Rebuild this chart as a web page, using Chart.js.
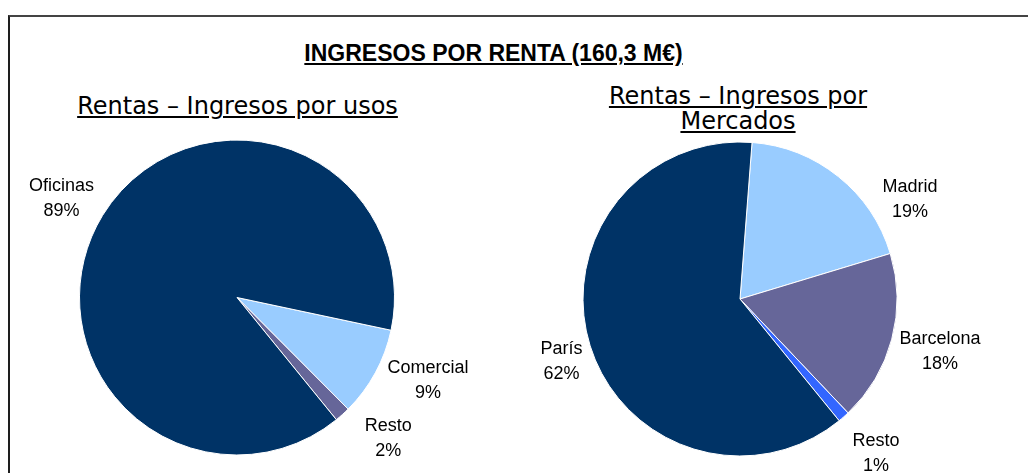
<!DOCTYPE html>
<html>
<head>
<meta charset="utf-8">
<script src="https://cdn.jsdelivr.net/npm/chart.js@4.4.0/dist/chart.umd.min.js"></script>
<style>
  body { margin: 0; width: 1028px; height: 473px; overflow: hidden; background: #fff; position: relative; }
  #frame { position: absolute; left: 8px; top: 15px; width: 1100px; height: 500px;
           border-top: 2px solid #444; border-left: 2px solid #1e1e1e; }
  #title { position: absolute; left: 0; width: 987px; top: 40px; line-height: 26px; text-align: center;
           font: bold 23px "Liberation Sans", Arial, sans-serif; text-decoration: underline; color: #000; }
  .sub { position: absolute; text-align: center; font-family: "DejaVu Sans", Verdana, sans-serif;
         font-size: 24px; text-decoration: underline; color: #000; }
  #subUsos { left: 0; width: 475px; top: 93px; line-height: 26px; }
  #subMercados { left: 438px; width: 600px; top: 84px; line-height: 25px; }
  canvas { position: absolute; top: 0; }
  #usosChart { left: 0; }
  #mercadosChart { left: 514px; }
</style>
</head>
<body>
<div id="frame"></div>
<div id="title">INGRESOS POR RENTA (160,3 M€)</div>
<div class="sub" id="subUsos">Rentas – Ingresos por usos</div>
<div class="sub" id="subMercados">Rentas – Ingresos por<br>Mercados</div>
<canvas id="usosChart" width="514" height="473"></canvas>
<canvas id="mercadosChart" width="514" height="473"></canvas>
<script>
//// Ingresos por usos (listed clockwise, starting at the Comercial slice)
const usosLabels = ["Comercial", "Resto", "Oficinas"];
const usosValues = [9.2, 1.6, 89.2];
const usosColors = ["#99CCFF", "#666699", "#003366"];

//// Ingresos por mercados (listed clockwise, starting at the Madrid slice)
const mercadosLabels = ["Madrid", "Barcelona", "Resto", "París"];
const mercadosValues = [19.1, 17.6, 1.2, 62.1];
const mercadosColors = ["#99CCFF", "#666699", "#3366FF", "#003366"];

// Draws "name / xx%" outside each slice, like the Excel data labels
const sliceLabels = {
    id: 'sliceLabels',
    afterDatasetsDraw(chart, args, opts) {
        const ctx = chart.ctx;
        const values = chart.data.datasets[0].data;
        const total = values.reduce((a, b) => a + b, 0);
        const shift = opts.shift || {};
        ctx.save();
        ctx.font = opts.font;
        ctx.fillStyle = opts.color;
        ctx.textAlign = 'center';
        ctx.textBaseline = 'middle';
        chart.getDatasetMeta(0).data.forEach((arc, i) => {
            const name = chart.data.labels[i];
            const pct = Math.round(values[i] / total * 100) + '%';
            const w = Math.max(ctx.measureText(name).width, ctx.measureText(pct).width);
            const h = opts.lineHeight * 2 - 6;
            const a = (arc.startAngle + arc.endAngle) / 2 + (shift[name] || 0) * Math.PI / 180;
            const c = Math.cos(a), s = Math.sin(a);
            const gap = opts.gap + (values[i] / total < 0.03 ? opts.smallGap : 0);
            const d = arc.outerRadius + gap + Math.abs(c) * w / 2 + Math.abs(s) * h / 2;
            const x = arc.x + c * d;
            const y = arc.y + s * d;
            ctx.fillText(name, x, y - opts.lineHeight / 2);
            ctx.fillText(pct, x, y + opts.lineHeight / 2);
        });
        ctx.restore();
    }
};

function makePie(id, labels, values, colors, rotation, padding, shift) {
    return new Chart(document.getElementById(id), {
        type: 'pie',
        data: {
            labels: labels,
            datasets: [{
                data: values,
                backgroundColor: colors,
                borderColor: '#ffffff',
                borderWidth: 1
            }]
        },
        options: {
            responsive: false,
            animation: false,
            rotation: rotation,
            layout: { padding: padding },
            plugins: {
                legend: { display: false },
                tooltip: { enabled: false },
                sliceLabels: {
                    font: '18px "Liberation Sans", Arial, sans-serif',
                    color: '#000000',
                    lineHeight: 25,
                    gap: 5,
                    smallGap: 12,
                    shift: shift
                }
            }
        },
        plugins: [sliceLabels]
    });
}

var usosChart = makePie("usosChart", usosLabels, usosValues, usosColors, 102,
    { left: 79, right: 119, top: 139.5, bottom: 17.5 },
    { Comercial: -5, Resto: -5, Oficinas: -2 });
var mercadosChart = makePie("mercadosChart", mercadosLabels, mercadosValues, mercadosColors, 4.4,
    { left: 68.5, right: 130.5, top: 141.5, bottom: 16.5 },
    { Madrid: 21, "París": -2 });
</script>
</body>
</html>
